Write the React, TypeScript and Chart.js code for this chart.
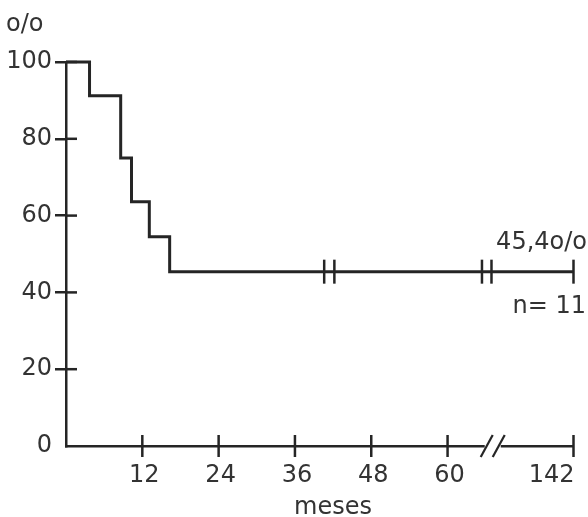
import React, { useEffect, useRef } from "react";
import { Chart, registerables } from "chart.js";
Chart.register(...registerables);

// Kaplan-Meier survival data (months, % surviving)
const eventMonths = [0, 3.7, 8.6, 10.3, 13.1, 16.3];
const survivalPct = [100, 91.2, 75, 63.6, 54.5, 45.4];
const lastFollowUp = 142;
const censoredMonths = [40.6, 42.2, 82.4, 88.6, 142];
const xTickMonths = [12, 24, 36, 48, 60, 142];
const yTickValues = [0, 20, 40, 60, 80, 100];
const axisBreakMonth = 89.4;
const yAxisUnit = "o/o";
const xAxisTitle = "meses";
const finalLabel = "45,4o/o";
const sampleLabel = "n= 11";

// broken axis: beyond 60 months the axis is compressed
const BREAK_START = 60;
const BREAK_SCALE = 0.2415;
const toAxis = (m: number) =>
  m <= BREAK_START ? m : BREAK_START + (m - BREAK_START) * BREAK_SCALE;

const survivalAt = (m: number) => {
  let v = survivalPct[0];
  for (let i = 0; i < eventMonths.length; i++) if (eventMonths[i] <= m) v = survivalPct[i];
  return v;
};

const INK = "#252525";
const TEXT = "#333333";
const FONT = "DejaVu Sans";

export default function App() {
  const ref = useRef<HTMLCanvasElement | null>(null);

  useEffect(() => {
    document.body.style.margin = "0";
    const canvas = ref.current;
    if (!canvas) return;

    const stepData = eventMonths.map((m, i) => ({ x: toAxis(m), y: survivalPct[i] }));
    stepData.push({ x: toAxis(lastFollowUp), y: survivalPct[survivalPct.length - 1] });
    const censorData = censoredMonths.map((m) => ({ x: toAxis(m), y: survivalAt(m) }));

    const decor = {
      id: "decor",
      afterDraw(chart: any) {
        const { ctx, chartArea, scales } = chart;
        const xs = scales.x;
        const ys = scales.y;
        ctx.save();
        ctx.strokeStyle = INK;
        ctx.lineWidth = 2.5;
        // inner halves of y ticks
        yTickValues.forEach((v) => {
          if (v === 0) return;
          const y = ys.getPixelForValue(v);
          ctx.beginPath();
          ctx.moveTo(chartArea.left, y);
          ctx.lineTo(chartArea.left + 11, y);
          ctx.stroke();
        });
        // x ticks crossing the axis + labels
        ctx.fillStyle = TEXT;
        ctx.font = `24px "${FONT}"`;
        ctx.textBaseline = "alphabetic";
        xTickMonths.forEach((m, i) => {
          const x = xs.getPixelForValue(toAxis(m));
          ctx.beginPath();
          ctx.moveTo(x, chartArea.bottom - 11);
          ctx.lineTo(x, chartArea.bottom + 11);
          ctx.stroke();
          const last = i === xTickMonths.length - 1;
          ctx.textAlign = last ? "right" : "center";
          ctx.fillText(String(m), last ? x + 1 : x + 2, chartArea.bottom + 36);
        });
        // axis break
        const bx = xs.getPixelForValue(toAxis(axisBreakMonth));
        const by = chartArea.bottom;
        ctx.fillStyle = "#ffffff";
        ctx.fillRect(bx - 8, by - 3, 16, 6);
        ctx.lineWidth = 2.2;
        [-6, 6].forEach((o) => {
          ctx.beginPath();
          ctx.moveTo(bx + o - 6, by + 11);
          ctx.lineTo(bx + o + 6, by - 11);
          ctx.stroke();
        });
        // texts
        ctx.fillStyle = TEXT;
        ctx.font = `24px "${FONT}"`;
        ctx.textAlign = "center";
        ctx.fillText(xAxisTitle, 333, 514);
        ctx.textAlign = "left";
        ctx.fillText(yAxisUnit, 6, 31);
        ctx.textAlign = "right";
        ctx.fillText(finalLabel, 587, 249);
        ctx.fillText(sampleLabel, 586, 313);
        ctx.restore();
      },
    };

    const chart = new Chart(canvas, {
      type: "scatter",
      data: {
        datasets: [
          {
            data: stepData,
            showLine: true,
            stepped: true,
            borderColor: INK,
            borderWidth: 3,
            pointRadius: 0,
            clip: false,
          } as any,
          {
            data: censorData,
            showLine: false,
            pointStyle: "line",
            rotation: 90,
            pointRadius: 12,
            pointBorderWidth: 2.5,
            borderColor: INK,
            backgroundColor: INK,
            clip: false,
          } as any,
        ],
      },
      options: {
        responsive: false,
        animation: false,
        events: [],
        layout: { padding: { top: 62, right: 6, left: 0, bottom: 0 } },
        plugins: { legend: { display: false }, tooltip: { enabled: false } },
        scales: {
          x: {
            type: "linear",
            min: 0,
            max: toAxis(lastFollowUp),
            grid: { display: false },
            border: { display: true, color: INK, width: 2.5 },
            ticks: { display: false },
            afterFit: (s: any) => {
              s.height = 71;
            },
          },
          y: {
            type: "linear",
            min: 0,
            max: 100,
            afterBuildTicks: (s: any) => {
              s.ticks = yTickValues.map((v) => ({ value: v }));
            },
            grid: {
              drawOnChartArea: false,
              drawTicks: true,
              tickLength: 11,
              lineWidth: 2.5,
              color: (c: any) => (c.tick && c.tick.value === 0 ? "rgba(0,0,0,0)" : INK),
            },
            border: { display: true, color: INK, width: 2.5 },
            ticks: {
              color: TEXT,
              font: { family: FONT, size: 24 },
              padding: 3,
            },
            afterFit: (s: any) => {
              s.width = 66;
            },
          },
        },
      },
      plugins: [decor],
    } as any);

    return () => chart.destroy();
  }, []);

  return <canvas ref={ref} width={588} height={517} style={{ display: "block" }} />;
}
